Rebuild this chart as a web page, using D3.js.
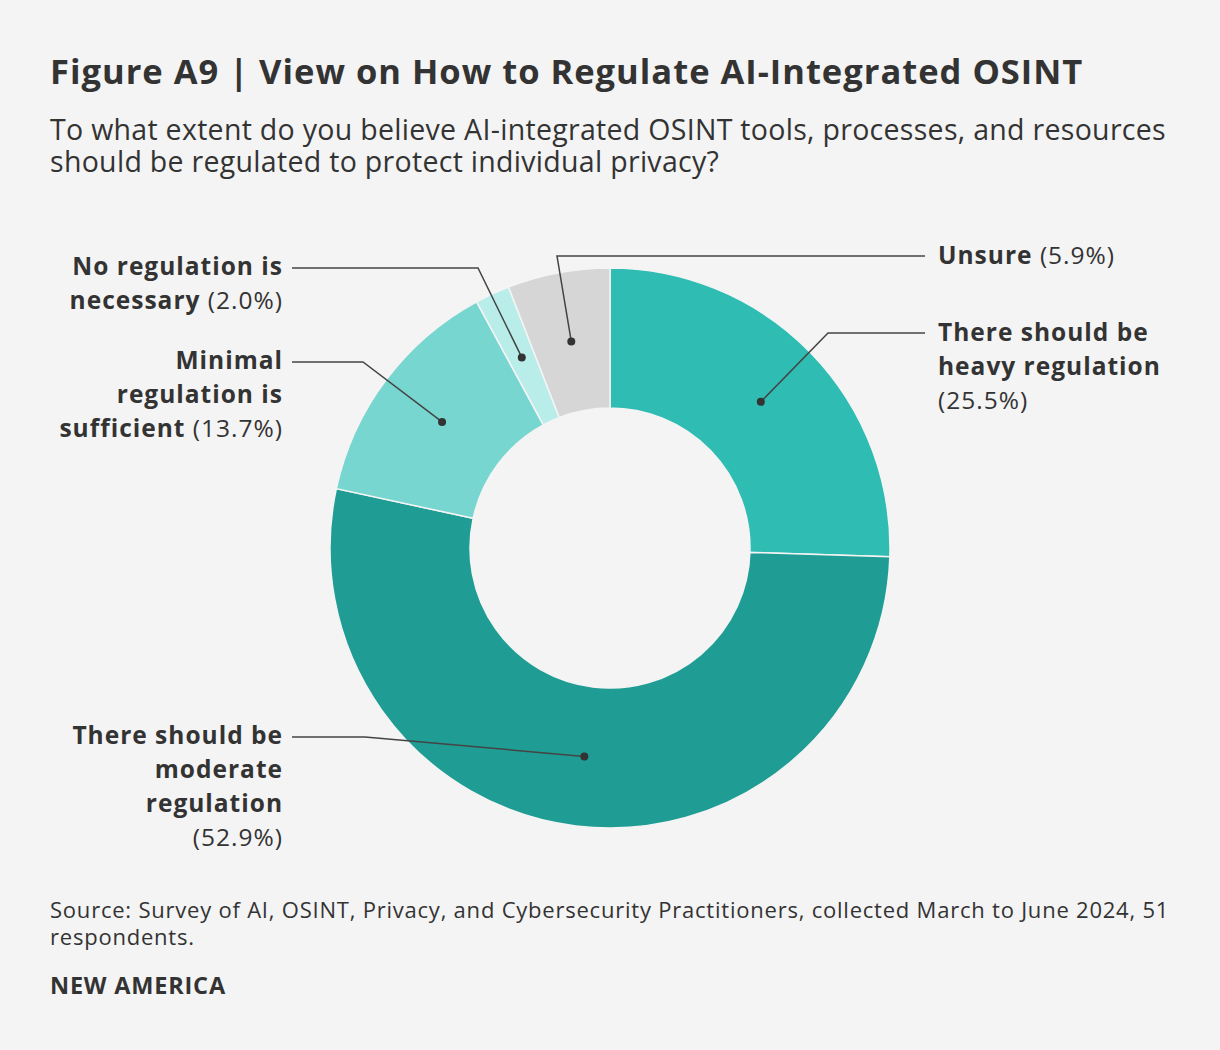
<!DOCTYPE html>
<html>
<head>
<meta charset="utf-8">
<script src="https://cdn.jsdelivr.net/npm/d3@7"></script>
<style>
  html, body { margin: 0; padding: 0; background: #f4f4f4; }
  svg { display: block; }
  text { font-family: "Open Sans", Lato, sans-serif; fill: #333333; }
</style>
</head>
<body>
<svg id="chart" width="1220" height="1050"></svg>
<script>
// ---- Data ----
const categories = [
  "There should be heavy regulation",
  "There should be moderate regulation",
  "Minimal regulation is sufficient",
  "No regulation is necessary",
  "Unsure"
];
const values = [25.5, 52.9, 13.7, 2.0, 5.9];
const colors = ["#2fbcb3", "#1f9c93", "#78d6d0", "#b9ede9", "#d6d6d6"];
const labelLines = [
  ["There should be", "heavy regulation", ""],
  ["There should be", "moderate", "regulation", ""],
  ["Minimal", "regulation is", "sufficient"],
  ["No regulation is", "necessary"],
  ["Unsure"]
];
const titleText = "Figure A9 | View on How to Regulate AI-Integrated OSINT";
const subtitleLines = [
  "To what extent do you believe AI-integrated OSINT tools, processes, and resources",
  "should be regulated to protect individual privacy?"
];
const sourceLines = [
  "Source: Survey of AI, OSINT, Privacy, and Cybersecurity Practitioners, collected March to June 2024, 51",
  "respondents."
];
const brandText = "NEW AMERICA";

// ---- Layout ----
const cx = 610, cy = 548, rOuter = 280, rInner = 140;
const layout = [
  { side: "right", tx: 938, ty: 341, elbow: [828, 333], endX: 925 },
  { side: "left",  tx: 283, ty: 744, elbow: [365, 737], endX: 292 },
  { side: "left",  tx: 283, ty: 369, elbow: [363, 362], endX: 292 },
  { side: "left",  tx: 283, ty: 275, elbow: [478, 268], endX: 292 },
  { side: "right", tx: 938, ty: 264, elbow: [557, 256], endX: 925 }
];
const lineH = 34;

const svg = d3.select("#chart");
svg.append("rect").attr("width", 1220).attr("height", 1050).attr("fill", "#f4f4f4");

svg.append("text").attr("x", 50).attr("y", 84)
  .style("font-size", "34.5px").style("font-weight", 700)
  .style("letter-spacing", "1px").text(titleText);

const sub = svg.append("text").attr("x", 50).attr("y", 140)
  .style("font-size", "28.5px").style("font-weight", 400)
  .style("letter-spacing", "0.3px");
sub.selectAll("tspan").data(subtitleLines).join("tspan")
  .attr("x", 50).attr("dy", (d, i) => i === 0 ? 0 : 32).text(d => d);

const pie = d3.pie().sort(null).value(d => d).startAngle(0).endAngle(2 * Math.PI);
const arcs = pie(values);
const arc = d3.arc().innerRadius(rInner).outerRadius(rOuter);

const g = svg.append("g").attr("transform", `translate(${cx},${cy})`);
g.selectAll("path").data(arcs).join("path")
  .attr("d", arc)
  .attr("fill", (d, i) => colors[i])
  .attr("stroke", "#f4f4f4")
  .attr("stroke-width", 1.5);

const leaders = svg.append("g");
arcs.forEach((a, i) => {
  const c = arc.centroid(a);
  const px = cx + c[0], py = cy + c[1];
  const L = layout[i];
  leaders.append("polyline")
    .attr("points", `${px},${py} ${L.elbow[0]},${L.elbow[1]} ${L.endX},${L.elbow[1]}`)
    .attr("fill", "none").attr("stroke", "#444").attr("stroke-width", 1.5);
  leaders.append("circle").attr("cx", px).attr("cy", py).attr("r", 4).attr("fill", "#333");
});

const fmt = d3.format(".1f");
const labG = svg.append("g");
arcs.forEach((a, i) => {
  const L = layout[i];
  const lines = labelLines[i];
  const t = labG.append("text")
    .attr("x", L.tx).attr("y", L.ty)
    .attr("text-anchor", L.side === "left" ? "end" : "start")
    .style("font-size", "24.5px")
    .style("letter-spacing", "1px");
  lines.forEach((ln, j) => {
    const isLast = j === lines.length - 1;
    const ts = t.append("tspan").attr("x", L.tx).attr("dy", j === 0 ? 0 : lineH);
    if (ln !== "") ts.append("tspan").style("font-weight", 700).text(ln);
    if (isLast) ts.append("tspan").style("font-weight", 400)
        .text((ln !== "" ? " " : "") + "(" + fmt(values[i]) + "%)");
  });
});

const src = svg.append("text").attr("x", 50).attr("y", 918)
  .style("font-size", "22px").style("font-weight", 400)
  .style("letter-spacing", "0.78px");
src.selectAll("tspan").data(sourceLines).join("tspan")
  .attr("x", 50).attr("dy", (d, i) => i === 0 ? 0 : 27).text(d => d);

svg.append("text").attr("x", 50).attr("y", 994)
  .style("font-size", "23.5px").style("font-weight", 700)
  .style("letter-spacing", "0.8px").text(brandText);
</script>
</body>
</html>
